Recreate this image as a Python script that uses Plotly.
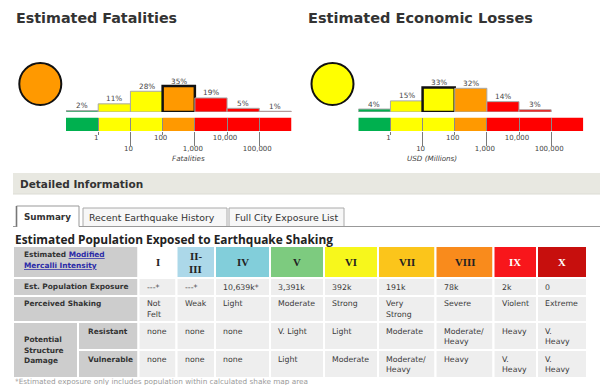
import plotly.graph_objects as go

# ---------------- data ----------------
loss_bins = ["<1", "1-10", "10-100", "100-1,000", "1,000-10,000", "10,000-100,000", ">100,000"]
fatal_pct = [2, 11, 28, 35, 19, 5, 1]
econ_pct = [4, 15, 33, 32, 14, 3, 0]
bin_alert = ["green", "yellow", "yellow", "orange", "red", "red", "red"]
fatal_alert_bin = 3
econ_alert_bin = 2
scale_ticks = ["1", "10", "100", "1,000", "10,000", "100,000"]
fatal_title = "Estimated Fatalities"
econ_title = "Estimated Economic Losses"
fatal_axis_title = "Fatalities"
econ_axis_title = "USD (Millions)"

mmi_labels = ["I", "II-<br>III", "IV", "V", "VI", "VII", "VIII", "IX", "X"]
exposure = ["---*", "---*", "10,639k*", "3,391k", "392k", "191k", "78k", "2k", "0"]
shaking = ["Not<br>Felt", "Weak", "Light", "Moderate", "Strong", "Very<br>Strong", "Severe", "Violent", "Extreme"]
damage_resistant = ["none", "none", "none", "V. Light", "Light", "Moderate", "Moderate/<br>Heavy", "Heavy", "V.<br>Heavy"]
damage_vulnerable = ["none", "none", "none", "Light", "Moderate", "Moderate/<br>Heavy", "Heavy", "V.<br>Heavy", "V.<br>Heavy"]
tabs = ["Summary", "Recent Earthquake History", "Full City Exposure List"]
section_title = "Detailed Information"
table_title = "Estimated Population Exposed to Earthquake Shaking"
footnote = "*Estimated exposure only includes population within calculated shake map area"

# ---------------- style ----------------
W, H = 600, 385
ALERT = {"green": "#00b04f", "yellow": "#ffff00", "orange": "#ff9900", "red": "#ff0000"}
MMI_COLORS = ["#ffffff", "#acd8e9", "#82ceda", "#7dcb7f", "#f7f71c", "#fbc51b", "#f98b1c", "#f8161b", "#c70f0d"]
MMI_TEXT = ["#222222"] * 7 + ["#ffffff", "#ffffff"]
LABEL_BG = "#cdcdcd"
CELL_BG = "#eeeeee"
SANS = "DejaVu Sans"
LINK = "#2a2aa8"

def yp(v):
    return 1 - v / H

def nm(prefix, i):
    return prefix + ("" if i == 1 else str(i))

fig = go.Figure()
ann = []
shapes = []

n = len(loss_bins)
centers = [i + 0.5 for i in range(n)]
bar_colors = [ALERT[a] for a in bin_alert]

panels = [
    dict(pct=fatal_pct, alert=fatal_alert_bin, left=66, right=291.5, tx=171, title=fatal_axis_title, k=0),
    dict(pct=econ_pct, alert=econ_alert_bin, left=358.3, right=583.3, tx=457.7, title=econ_axis_title, k=1),
]

layout_axes = {}
for p in panels:
    k = p["k"]
    xh, xs, xo, xe = 4 * k + 1, 4 * k + 2, 4 * k + 3, 4 * k + 4
    yh, ys = 2 * k + 1, 2 * k + 2
    dom = [p["left"] / W, p["right"] / W]
    lc = []
    lw = []
    for i, v in enumerate(p["pct"]):
        if i == p["alert"]:
            lc.append("#111111"); lw.append(2.5)
        elif v == 0:
            lc.append("rgba(0,0,0,0)"); lw.append(0)
        else:
            lc.append("#a8a8a8"); lw.append(1)
    fig.add_trace(go.Bar(x=centers, y=p["pct"], width=1, customdata=loss_bins,
                         marker=dict(color=bar_colors, line=dict(color=lc, width=lw)),
                         xaxis=nm("x", xh), yaxis=nm("y", yh), hoverinfo="skip"))
    fig.add_trace(go.Bar(x=centers, y=[1] * n, base=0, width=1,
                         marker=dict(color=bar_colors, line=dict(width=0)),
                         xaxis=nm("x", xs), yaxis=nm("y", ys), hoverinfo="skip"))
    # empty traces so the overlaid tick-label axes are drawn
    for xa in (xo, xe):
        fig.add_trace(go.Scatter(x=[], y=[], xaxis=nm("x", xa), yaxis=nm("y", ys), hoverinfo="skip"))
    for i, v in enumerate(p["pct"]):
        if v > 0:
            ann.append(dict(x=centers[i], y=v, xref=nm("x", xh), yref=nm("y", yh), text=f"{v}%",
                            showarrow=False, yshift=5, yanchor="middle",
                            font=dict(family=SANS, size=7.3, color="#444444")))
    layout_axes[nm("xaxis", xh)] = dict(domain=dom, range=[0, n], visible=False, anchor=nm("y", yh))
    layout_axes[nm("yaxis", yh)] = dict(domain=[yp(112), yp(72)], range=[0, 54], visible=False, anchor=nm("x", xh))
    layout_axes[nm("xaxis", xs)] = dict(domain=dom, range=[0, n], anchor=nm("y", ys), showgrid=False,
                                        zeroline=False, showline=False, showticklabels=False,
                                        tickmode="array", tickvals=[1, 2, 3, 4, 5, 6], ticks="inside",
                                        ticklen=13.5, tickcolor="#8a8a8a", tickwidth=1, layer="above traces")
    layout_axes[nm("yaxis", ys)] = dict(domain=[yp(131), yp(117.5)], range=[0, 1], visible=False, anchor=nm("x", xs))
    odd = [1, 3, 5]
    even = [2, 4, 6]
    common = dict(overlaying=nm("x", xs), anchor=nm("y", ys), range=[0, n], showgrid=False, zeroline=False,
                  showline=False, tickmode="array", ticks="outside", tickcolor="#7a7a7a", tickwidth=1,
                  tickfont=dict(family=SANS, size=7, color="#444444"), ticklabelshift=-2)
    layout_axes[nm("xaxis", xo)] = dict(common, tickvals=odd, ticktext=[scale_ticks[i - 1] for i in odd],
                                        ticklen=3, ticklabelstandoff=-3)
    layout_axes[nm("xaxis", xe)] = dict(common, tickvals=even, ticktext=[scale_ticks[i - 1] for i in even],
                                        ticklen=14, ticklabelstandoff=-3)
    ann.append(dict(x=p["tx"] / W, y=yp(158), xref="paper", yref="paper", text=f"<i>{p['title']}</i>",
                    showarrow=False, borderpad=0, font=dict(family=SANS, size=7.2, color="#444444")))

# ---------------- page axis (pixel-like) ----------------
PX, PY = "x9", "y5"
layout_axes["xaxis9"] = dict(domain=[0, 1], range=[0, W], visible=False, anchor=PY)
layout_axes["yaxis5"] = dict(domain=[0, 1], range=[H, 0], visible=False, anchor=PX)

def page_text(x, y, text, size=8, color="#333333", family=SANS, xanchor="left", yanchor="middle"):
    ann.append(dict(x=x, y=y, xref=PX, yref=PY, text=text, showarrow=False, xanchor=xanchor,
                    yanchor=yanchor, borderpad=0, font=dict(family=family, size=size, color=color)))

# alert circles
fig.add_trace(go.Scatter(x=[40.3, 332.5], y=[84, 84], mode="markers", xaxis=PX, yaxis=PY, hoverinfo="skip",
                         marker=dict(size=42, color=[ALERT[bin_alert[fatal_alert_bin]], ALERT[bin_alert[econ_alert_bin]]],
                                     line=dict(color="#111111", width=2))))

page_text(14.5, 17.5, f"<b>{fatal_title}</b>", size=14.3, color="#333333")
page_text(306.5, 17.5, f"<b>{econ_title}</b>", size=14.5, color="#333333")

# section band
shapes.append(dict(type="rect", xref=PX, yref=PY, x0=13, x1=600, y0=173, y1=194, fillcolor="#e8e8e1",
                   line=dict(width=0), layer="below"))
shapes.append(dict(type="line", xref=PX, yref=PY, x0=13, x1=600, y0=194, y1=194, line=dict(color="#dcdcd4", width=1)))
page_text(19.3, 184, f"<b>{section_title}</b>", size=10.5, color="#333333")

# tabs
tab_boxes = [(16.5, 79, 206), (83, 227, 208), (229, 344, 208)]
for i, (t, (x0, x1, y0)) in enumerate(zip(tabs, tab_boxes)):
    if i == 0:
        shapes.append(dict(type="path", xref=PX, yref=PY, path=f"M{x0},226.5 L{x0},{y0} L{x1},{y0} L{x1},226.5",
                           fillcolor="#ffffff", line=dict(color="#999999", width=1)))
        shapes.append(dict(type="line", xref=PX, yref=PY, x0=x0, x1=x0, y0=y0, y1=227,
                           line=dict(color="#777777", width=1.6)))
        page_text((x0 + x1) / 2, 216.5, f"<b>{t}</b>", size=8.8, color="#333333", xanchor="center")
    else:
        shapes.append(dict(type="rect", xref=PX, yref=PY, x0=x0, x1=x1, y0=y0, y1=226.5,
                           fillcolor="#f7f7f7", line=dict(color="#aaaaaa", width=1)))
        page_text(x0 + 4.5, 217, t, size=9.4, color="#333333")
shapes.append(dict(type="line", xref=PX, yref=PY, x0=79, x1=600, y0=226.5, y1=226.5, line=dict(color="#999999", width=1)))
shapes.append(dict(type="line", xref=PX, yref=PY, x0=13, x1=16.5, y0=226.5, y1=226.5, line=dict(color="#999999", width=1)))

page_text(14, 239, f"<b>{table_title}</b>", size=11.9, color="#222222", family="Open Sans")

# ---------------- table ----------------
col_edges = [13, 138.5, 176.5, 215, 270, 324, 378, 435.5, 493.5, 537, 587]
label_split = 78
row_edges = [246, 278, 296, 322, 350, 378]
line_gap = 10.7

cx, cw, cb, ch, cc = [], [], [], [], []
def cell(x0, x1, y0, y1, color):
    cx.append((x0 + x1) / 2); cw.append(x1 - x0); cb.append(y0); ch.append(y1 - y0); cc.append(color)

# label cells
cell(col_edges[0], col_edges[1], row_edges[0], row_edges[1], LABEL_BG)
cell(col_edges[0], col_edges[1], row_edges[1], row_edges[2], LABEL_BG)
cell(col_edges[0], col_edges[1], row_edges[2], row_edges[3], LABEL_BG)
cell(col_edges[0], label_split, row_edges[3], row_edges[5], LABEL_BG)
cell(label_split, col_edges[1], row_edges[3], row_edges[4], LABEL_BG)
cell(label_split, col_edges[1], row_edges[4], row_edges[5], LABEL_BG)
# MMI header cells
for j in range(len(mmi_labels)):
    cell(col_edges[j + 1], col_edges[j + 2], row_edges[0], row_edges[1], MMI_COLORS[j])
# data cells
rows_data = [exposure, shaking, damage_resistant, damage_vulnerable]
for r in range(len(rows_data)):
    for j in range(len(mmi_labels)):
        cell(col_edges[j + 1], col_edges[j + 2], row_edges[r + 1], row_edges[r + 2], CELL_BG)

fig.add_trace(go.Bar(x=cx, width=cw, base=cb, y=ch, xaxis=PX, yaxis=PY, hoverinfo="skip",
                     marker=dict(color=cc, line=dict(color="#ffffff", width=2))))

LBL = dict(size=7.4, color="#333333")
link = f"<span style='color:{LINK};text-decoration:underline'>"
page_text(22.5, 254.3, f"<b>Estimated {link}Modified</span></b>", **LBL)
page_text(22.5, 265.7, f"<b>{link}Mercalli Intensity</span></b>", **LBL)
page_text(22.5, 286.7, "<b>Est. Population Exposure</b>", **LBL)
page_text(22.5, 303.3, "<b>Perceived Shaking</b>", **LBL)
for i, w in enumerate(["Potential", "Structure", "Damage"]):
    page_text(22.5, 339.3 + i * 10.7, f"<b>{w}</b>", **LBL)
page_text(86.5, 331, "<b>Resistant</b>", **LBL)
page_text(86.5, 359, "<b>Vulnerable</b>", **LBL)

for j, lab in enumerate(mmi_labels):
    xc = (col_edges[j + 1] + col_edges[j + 2]) / 2
    parts = lab.split("<br>")
    y0 = 262.3 - (len(parts) - 1) * 13.3 / 2
    for i, ptxt in enumerate(parts):
        page_text(xc, y0 + i * 13.3, f"<b>{ptxt}</b>", size=10.8, color=MMI_TEXT[j],
                  family="Liberation Serif", xanchor="center")

first_line = [287, 303.3, 331, 359]
for r, row in enumerate(rows_data):
    for j, val in enumerate(row):
        for i, ptxt in enumerate(val.split("<br>")):
            page_text(col_edges[j + 1] + 7, first_line[r] + i * line_gap, ptxt, size=7.8, color="#3a3a3a")

page_text(14, 381, footnote, size=7.3, color="#9a9a9a")

fig.update_layout(
    template="none",
    width=W, height=H, margin=dict(l=0, r=0, t=0, b=0), showlegend=False, barmode="overlay",
    paper_bgcolor="#ffffff", plot_bgcolor="rgba(0,0,0,0)", annotations=ann, shapes=shapes,
    **layout_axes,
)

fig.write_html("out.html", config={"displayModeBar": False},
               post_script="document.body.style.margin='0px';document.body.style.overflow='hidden';")
